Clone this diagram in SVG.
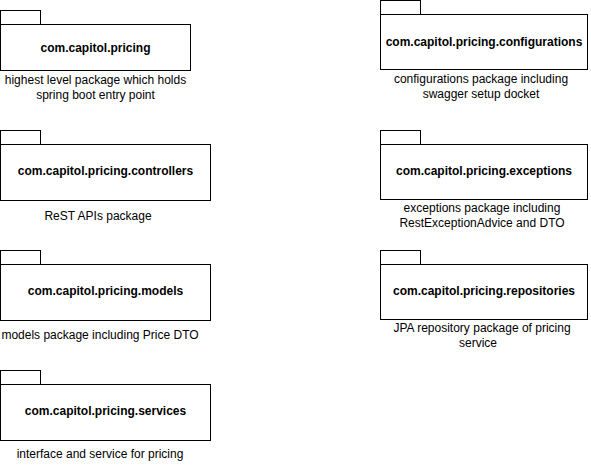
<svg xmlns="http://www.w3.org/2000/svg" width="591" height="470" viewBox="0 0 591 470">
<style>
.pk{fill:#fff;stroke:#000;stroke-width:1}
.t{font-family:"Liberation Sans",Arial,sans-serif;font-size:12px;fill:#000;text-anchor:middle}
.b{font-weight:bold}
</style>
<rect width="591" height="470" fill="#fff"/>
<g id="connectors"></g>
<g id="pricing">
<rect class="pk" x="0.5" y="10.5" width="40" height="14"/>
<rect class="pk" x="0.5" y="24.5" width="190" height="46"/>
<text class="t b" x="95.5" y="51.5">com.capitol.pricing</text>
<text class="t" x="95.5" y="83.5">highest level package which holds</text>
<text class="t" x="95.5" y="98.5">spring boot entry point</text>
</g>
<g id="configurations">
<rect class="pk" x="380.5" y="0.5" width="40" height="14"/>
<rect class="pk" x="380.5" y="14.5" width="207" height="55"/>
<text class="t b" x="484" y="45.5">com.capitol.pricing.configurations</text>
<text class="t" x="481" y="82.5">configurations package including</text>
<text class="t" x="481" y="97.5">swagger setup docket</text>
</g>
<g id="controllers">
<rect class="pk" x="0.5" y="130.5" width="40" height="14"/>
<rect class="pk" x="0.5" y="144.5" width="210" height="56"/>
<text class="t b" x="105.5" y="174.5">com.capitol.pricing.controllers</text>
<text class="t" x="98" y="219.5">ReST APIs package</text>
</g>
<g id="exceptions">
<rect class="pk" x="380.5" y="130.5" width="40" height="14"/>
<rect class="pk" x="380.5" y="144.5" width="207" height="55"/>
<text class="t b" x="484" y="174.5">com.capitol.pricing.exceptions</text>
<text class="t" x="482" y="211.5">exceptions package including</text>
<text class="t" x="482" y="226.5">RestExceptionAdvice and DTO</text>
</g>
<g id="models">
<rect class="pk" x="0.5" y="250.5" width="40" height="14"/>
<rect class="pk" x="0.5" y="264.5" width="210" height="56"/>
<text class="t b" x="105.5" y="294.5">com.capitol.pricing.models</text>
<text class="t" x="100" y="338.5">models package including Price DTO</text>
</g>
<g id="repositories">
<rect class="pk" x="380.5" y="250.5" width="40" height="14"/>
<rect class="pk" x="380.5" y="264.5" width="207" height="55"/>
<text class="t b" x="484" y="294.5">com.capitol.pricing.repositories</text>
<text class="t" x="482" y="331.5">JPA repository package of pricing</text>
<text class="t" x="478" y="346.5">service</text>
</g>
<g id="services">
<rect class="pk" x="0.5" y="370.5" width="40" height="14"/>
<rect class="pk" x="0.5" y="384.5" width="210" height="56"/>
<text class="t b" x="105.5" y="414.5">com.capitol.pricing.services</text>
<text class="t" x="100" y="457.5">interface and service for pricing</text>
</g>
</svg>
